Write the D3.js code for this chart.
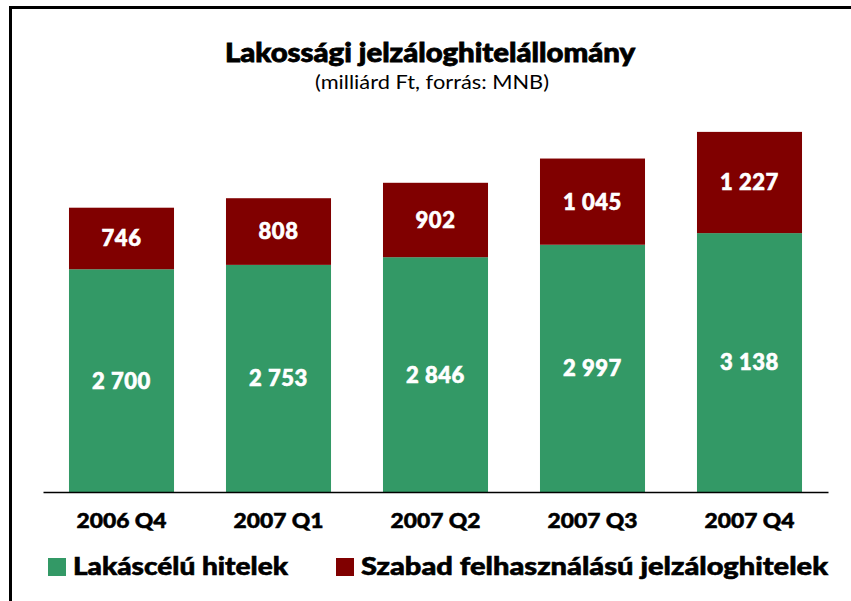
<!DOCTYPE html>
<html>
<head>
<meta charset="utf-8">
<script src="https://cdn.jsdelivr.net/npm/d3@7"></script>
<style>
  body { margin: 0; background: #fff; }
  text { font-family: Lato, "Open Sans", sans-serif; }
</style>
</head>
<body>
<svg id="chart"></svg>
<script>
var categories = ["2006 Q4", "2007 Q1", "2007 Q2", "2007 Q3", "2007 Q4"];
var housing = [2700, 2753, 2846, 2997, 3138];
var freeUse = [746, 808, 902, 1045, 1227];
var seriesNames = ["Lakáscélú hitelek", "Szabad felhasználású jelzáloghitelek"];
var colors = ["#339966", "#800000"];

var width = 851, height = 601;
var fmt = function (v) { return d3.format(",")(v).replace(/,/g, " "); };

var svg = d3.select("#chart")
    .attr("width", width)
    .attr("height", height);

// frame (left and top edges)
svg.append("path")
    .attr("d", "M10.5,601 L10.5,7.5 L851,7.5")
    .attr("fill", "none")
    .attr("stroke", "#000")
    .attr("stroke-width", 3);

var x = d3.scaleBand()
    .domain(categories)
    .range([43, 828])
    .paddingInner(0.331)
    .paddingOuter(0.1655);

var y = d3.scaleLinear()
    .domain([0, 5000])
    .range([492, 79.5]);

var rows = categories.map(function (c, i) {
    return { cat: c, housing: housing[i], freeUse: freeUse[i] };
});
var stacked = d3.stack().keys(["housing", "freeUse"])(rows);

var layers = svg.selectAll(".layer")
    .data(stacked)
    .enter().append("g")
    .attr("class", "layer")
    .attr("fill", function (d, i) { return colors[i]; });

layers.selectAll("rect")
    .data(function (d) { return d; })
    .enter().append("rect")
    .attr("x", function (d) { return x(d.data.cat); })
    .attr("y", function (d) { return y(d[1]); })
    .attr("width", x.bandwidth())
    .attr("height", function (d) { return y(d[0]) - y(d[1]); });

layers.selectAll("text")
    .data(function (d) { return d; })
    .enter().append("text")
    .attr("x", function (d) { return x(d.data.cat) + x.bandwidth() / 2; })
    .attr("y", function (d) { return (y(d[0]) + y(d[1])) / 2; })
    .attr("dy", "0.36em")
    .attr("text-anchor", "middle")
    .attr("fill", "#fff")
    .attr("stroke", "#fff")
    .attr("stroke-width", 0.6)
    .attr("font-weight", 900)
    .attr("font-size", 22)
    .attr("letter-spacing", 0.5)
    .text(function (d) { return fmt(d[1] - d[0]); });

// baseline + category labels
var xAxis = svg.append("g")
    .attr("transform", "translate(0," + y(0) + ")")
    .call(d3.axisBottom(x).tickSize(0).tickPadding(22));
xAxis.select(".domain").attr("stroke", "#000").attr("stroke-width", 1.5);
xAxis.selectAll("text")
    .attr("font-family", "Lato, sans-serif")
    .attr("font-weight", 900)
    .attr("font-size", 20)
    .attr("textLength", 90)
    .attr("lengthAdjust", "spacingAndGlyphs")
    .attr("stroke", "#000")
    .attr("stroke-width", 0.5)
    .attr("fill", "#000");

// title
svg.append("text")
    .attr("x", 430).attr("y", 62)
    .attr("text-anchor", "middle")
    .attr("font-weight", 900)
    .attr("font-size", 26)
    .attr("stroke", "#000")
    .attr("stroke-width", 0.8)
    .attr("textLength", 410)
    .attr("lengthAdjust", "spacingAndGlyphs")
    .text("Lakossági jelzáloghitelállomány");
svg.append("text")
    .attr("x", 432).attr("y", 89)
    .attr("text-anchor", "middle")
    .attr("font-size", 19)
    .attr("textLength", 234)
    .attr("lengthAdjust", "spacingAndGlyphs")
    .text("(milliárd Ft, forrás: MNB)");

// legend
var legendX = [48, 336];
var legendW = [215, 467];
var legend = svg.selectAll(".legend")
    .data(seriesNames)
    .enter().append("g")
    .attr("class", "legend")
    .attr("transform", function (d, i) { return "translate(" + legendX[i] + ",558)"; });
legend.append("rect")
    .attr("width", 18).attr("height", 18)
    .attr("fill", function (d, i) { return colors[i]; });
legend.append("text")
    .attr("x", 25).attr("y", 17)
    .attr("font-weight", 900)
    .attr("font-size", 25)
    .attr("stroke", "#000")
    .attr("stroke-width", 0.6)
    .attr("textLength", function (d, i) { return legendW[i]; })
    .attr("lengthAdjust", "spacingAndGlyphs")
    .text(function (d) { return d; });
</script>
</body>
</html>
